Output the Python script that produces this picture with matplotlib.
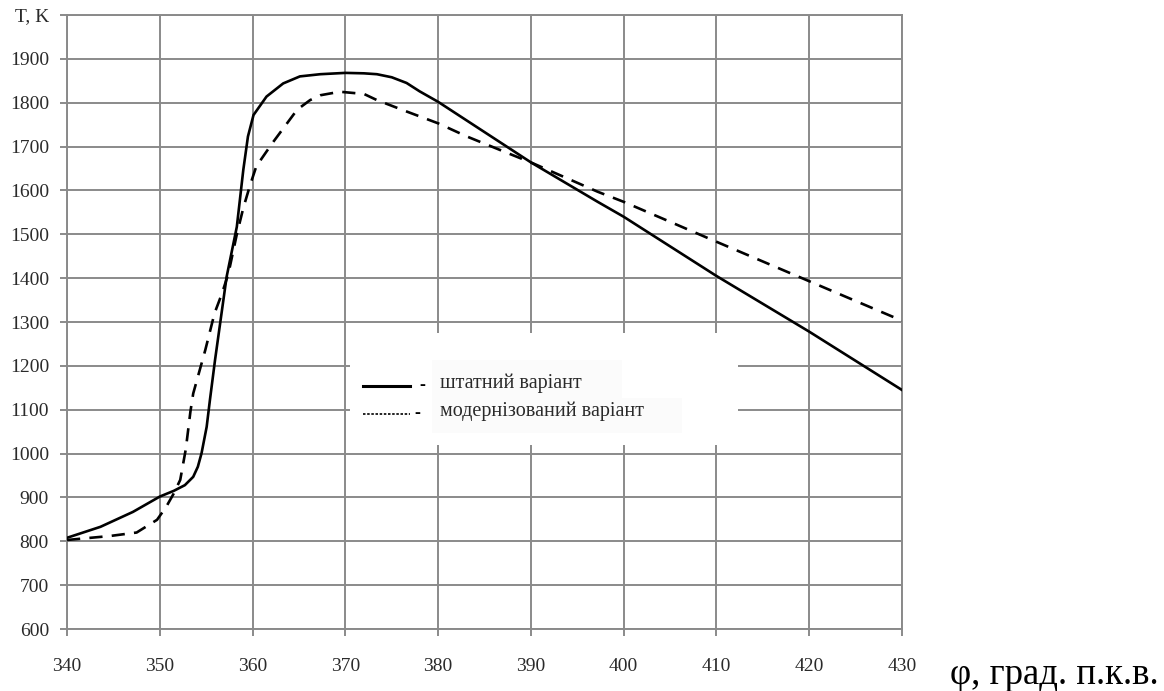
import matplotlib.pyplot as plt
from matplotlib.patches import Rectangle

# Temperature in the cylinder vs crank angle
phi_std = [340, 343.6, 347.1, 350, 351.5, 352.7, 353.6, 354.1, 354.5, 355.05, 355.4, 355.95,
           357.2, 358.3, 359.0, 359.5, 360.1, 361.5, 363.3, 365.1, 367.3, 370, 372, 373.4,
           375, 376.6, 378, 380, 385, 390, 397.2, 400, 410, 420, 430]
T_std = [808, 833, 867, 902, 915, 928, 947, 970, 1001, 1061, 1122, 1213,
         1403, 1517, 1647, 1723, 1772, 1814, 1844, 1860, 1865, 1868, 1867, 1865,
         1858, 1845, 1826, 1802, 1733, 1664, 1574, 1540, 1405, 1278, 1145]

phi_mod = [340, 344.6, 347.5, 349.7, 350.7, 351.5, 352.2, 352.8, 353.3, 353.6, 354.9, 355.9,
           356.7, 357.4, 358.3, 359.0, 359.7, 360.4, 362.1, 364.8, 366.2, 367.3, 369.4, 372,
           373.4, 376.6, 380, 383.1, 386.7, 390.2, 397.2, 400, 410, 420, 430]
T_mod = [803, 812, 820, 849, 879, 909, 940, 1010, 1096, 1137, 1236, 1320,
         1365, 1411, 1500, 1560, 1610, 1655, 1707, 1784, 1806, 1817, 1825, 1820,
         1806, 1780, 1753, 1723, 1692, 1662, 1597, 1574, 1483, 1393, 1303]

x_ticks = list(range(340, 431, 10))
y_ticks = list(range(600, 2001, 100))
y_labels = [str(v) for v in y_ticks[:-1]] + ['T, K']
legend_labels = ['штатний варіант', 'модернізований варіант']

plt.rcParams['font.family'] = ['Liberation Serif', 'DejaVu Serif']
grid_col = '#8a8a8a'
text_col = '#2a2a2a'

fig = plt.figure(figsize=(11.64, 6.91), dpi=100)
ax = fig.add_axes([0.0576, 0.0897, 0.7173, 0.8886])

ax.plot(phi_std, T_std, color='black', lw=1.9, zorder=3)
ax.plot(phi_mod, T_mod, color='black', lw=1.9, dashes=(5, 3.5), zorder=3)

ax.set_xlim(340, 430)
ax.set_ylim(600, 2000)
ax.set_xticks(x_ticks)
ax.set_yticks(y_ticks)
ax.set_yticklabels(y_labels)
ax.grid(True, color=grid_col, lw=1.4)
ax.set_axisbelow(True)
for s in ax.spines.values():
    s.set_color(grid_col)
    s.set_linewidth(1.4)
ax.tick_params(axis='both', colors=grid_col, width=1.4, length=5, labelcolor=text_col, labelsize=14)
ax.tick_params(axis='x', pad=16)
ax.tick_params(axis='y', pad=8)

# legend block drawn over the grid
ax.add_patch(Rectangle((0.339, 0.30), 0.465, 0.182, transform=ax.transAxes,
                       facecolor='white', edgecolor='none', zorder=2))
ax.add_patch(Rectangle((0.437, 0.376), 0.228, 0.062, transform=ax.transAxes,
                       facecolor='#fbfbfb', edgecolor='none', zorder=2))
ax.add_patch(Rectangle((0.437, 0.32), 0.30, 0.056, transform=ax.transAxes,
                       facecolor='#fbfbfb', edgecolor='none', zorder=2))
ax.plot([0.3545, 0.4108], [0.3958, 0.3958], transform=ax.transAxes, color='black', lw=2.2, zorder=4)
ax.plot([0.3545, 0.4108], [0.3502, 0.3502], transform=ax.transAxes, color='black', lw=1.2,
        dashes=(1.5, 1.0), zorder=4)
ax.text(0.425, 0.3958, '-', transform=ax.transAxes, ha='center', va='center', fontsize=13,
        fontweight='bold', zorder=4)
ax.text(0.420, 0.3502, '-', transform=ax.transAxes, ha='center', va='center', fontsize=13,
        fontweight='bold', zorder=4)
ax.text(0.4467, 0.4005, legend_labels[0], transform=ax.transAxes, va='center', fontsize=14.5,
        color=text_col, zorder=4)
ax.text(0.4467, 0.3545, legend_labels[1], transform=ax.transAxes, va='center', fontsize=14.5,
        color=text_col, zorder=4)

fig.text(950 / 1164, 1 - 684 / 691, 'φ, град. п.к.в.', fontsize=26.5, va='baseline', ha='left')

fig.savefig('out.png', dpi=100)
